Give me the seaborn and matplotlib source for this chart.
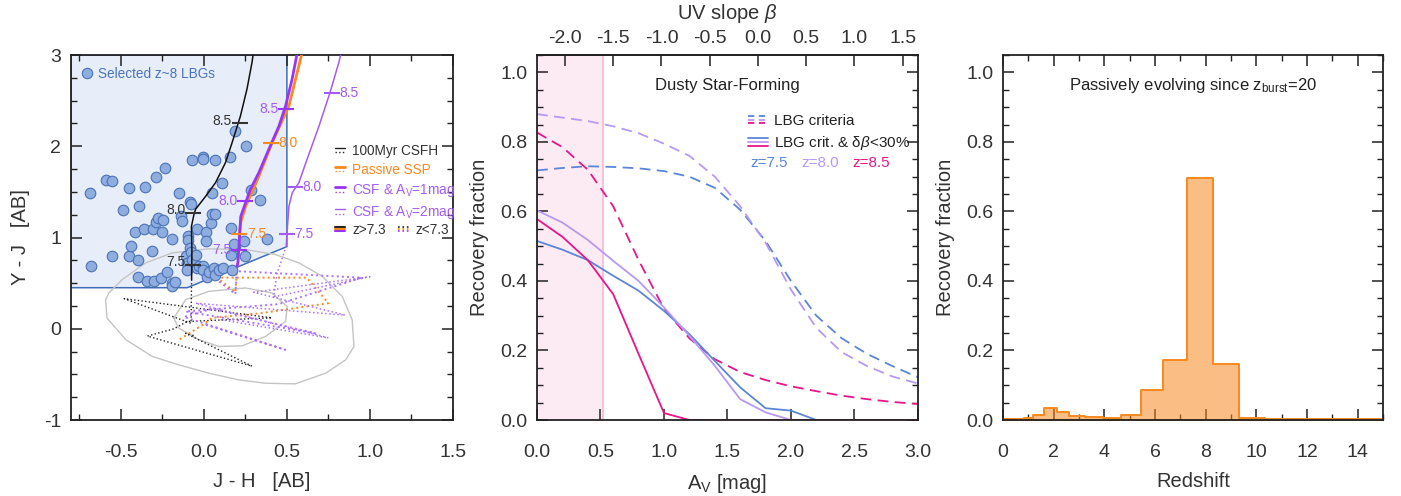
import numpy as np
import pandas as pd
import matplotlib
matplotlib.use("Agg")
import matplotlib.pyplot as plt
import seaborn as sns
from matplotlib.lines import Line2D
from matplotlib.legend_handler import HandlerBase
from matplotlib.patches import Polygon
from matplotlib.ticker import MultipleLocator, FormatStrFormatter

# ---------------------------------------------------------------- data
# Left panel: colour-colour diagram
lbg_jh = [-0.687, -0.677, -0.592, -0.556, -0.552, -0.486, -0.452, -0.452, -0.436, -0.416,
          -0.396, -0.392, -0.396, -0.361, -0.355, -0.345, -0.315, -0.307, -0.301, -0.291,
          -0.287, -0.279, -0.255, -0.249, -0.261, -0.235, -0.225, -0.191, -0.191, -0.191,
          -0.175, -0.151, -0.135, -0.130, -0.110, -0.104, -0.104, -0.094, -0.094, -0.086,
          -0.086, -0.080, -0.074, -0.080, -0.070, -0.046, -0.044, -0.040, -0.030, -0.006,
          -0.006, -0.006, -0.004, 0.010, 0.010, 0.016, 0.030, 0.040, 0.046, 0.050,
          0.070, 0.070, 0.060, 0.070, 0.090, 0.107, 0.116, 0.155, 0.161, 0.161,
          0.171, 0.187, 0.187, 0.241, 0.247, 0.251, 0.285, 0.341, 0.382, 0.180]
lbg_yj = [1.484, 0.692, 1.630, 1.615, 0.802, 1.297, 1.538, 0.798, 0.905, 1.062,
          0.751, 1.344, 0.564, 1.088, 1.557, 0.527, 0.857, 1.088, 0.527, 1.663,
          1.168, 1.212, 1.062, 1.187, 0.557, 1.762, 0.619, 0.989, 0.502, 0.465,
          0.509, 1.487, 1.234, 1.180, 0.795, 0.722, 0.641, 1.022, 0.978, 1.388,
          0.887, 1.370, 1.850, 0.840, 0.758, 0.813, 0.667, 1.088, 0.692, 1.887,
          1.857, 0.692, 0.648, 1.059, 0.960, 0.568, 0.623, 1.154, 1.484, 1.253,
          1.850, 1.253, 0.667, 0.593, 0.641, 1.601, 0.667, 1.883, 1.107, 0.813,
          0.648, 2.168, 0.905, 0.967, 0.802, 2.003, 1.516, 1.410, 0.985, 0.934]

# selection window (Y-J > 0.45, J-H < 0.5, Y-J > 0.525 + 0.75 (J-H))
window_jh = [-0.8, -0.1, 0.5, 0.5, -0.8]
window_yj = [0.45, 0.45, 0.9, 3.0, 3.0]

# model tracks, z > 7.3 part
csfh_jh = [-0.074, -0.072, -0.075, -0.060, -0.050, 0.010, 0.070, 0.130, 0.170, 0.220, 0.260, 0.290, 0.300]
csfh_yj = [0.54, 0.85, 1.12, 1.25, 1.31, 1.45, 1.60, 1.82, 2.04, 2.33, 2.63, 2.92, 3.05]
ssp_jh = [0.212, 0.221, 0.251, 0.331, 0.411, 0.512, 0.595]
ssp_yj = [1.00, 1.16, 1.34, 1.67, 2.04, 2.44, 3.05]
av1_jh = [0.200, 0.205, 0.215, 0.222, 0.251, 0.281, 0.331, 0.392, 0.452, 0.492, 0.532, 0.565]
av1_yj = [0.685, 0.72, 1.01, 1.23, 1.38, 1.53, 1.71, 1.97, 2.22, 2.44, 2.74, 3.05]
av2_jh = [0.496, 0.500, 0.512, 0.532, 0.572, 0.622, 0.693, 0.760, 0.813, 0.830]
av2_yj = [0.905, 1.03, 1.34, 1.49, 1.60, 1.86, 2.22, 2.59, 2.92, 3.05]

# model tracks, z < 7.3 part
csfh_lo_jh = [-0.074, -0.077, -0.48, 0.41, -0.10, -0.18, -0.34, 0.29, -0.11, -0.05]
csfh_lo_yj = [0.54, 0.06, 0.33, 0.12, 0.08, 0.00, -0.08, -0.41, -0.05, -0.08]
ssp_lo_jh = [0.212, 0.20, 0.19, 0.08, 0.62, 0.75, 0.34, 0.05, 0.00, -0.15]
ssp_lo_yj = [1.00, 0.70, 0.40, 0.56, 0.56, 0.28, 0.17, 0.12, 0.05, -0.12]
av1_lo_jh = [0.20, 0.19, 0.00, 0.95, 0.45, -0.11, 0.67, 0.05, -0.12, 0.49, 0.00]
av1_lo_yj = [0.685, 0.38, 0.65, 0.56, 0.27, 0.19, -0.05, 0.22, 0.13, -0.23, 0.05]
av2_lo_jh = [0.496, 0.44, 0.42, 1.00, 0.30, 0.85, -0.05, 0.75, 0.10]
av2_lo_yj = [0.905, 0.60, 0.35, 0.57, 0.40, 0.15, 0.28, -0.10, 0.10]

# redshift markers along the tracks
csfh_z = ["7.5", "8.0", "8.5"]
csfh_mjh = [-0.065, -0.065, 0.215]
csfh_myj = [0.70, 1.27, 2.25]
ssp_z = ["7.5", "8.0"]
ssp_mjh = [0.214, 0.404]
ssp_myj = [1.04, 2.04]
av1_z = ["7.5", "8.0", "8.5"]
av1_mjh = [0.214, 0.247, 0.494]
av1_myj = [0.86, 1.40, 2.41]
av2_z = ["7.5", "8.0", "8.5"]
av2_mjh = [0.500, 0.546, 0.770]
av2_myj = [1.04, 1.557, 2.58]

# outer / inner grey contours of the low-z interloper population
outer_jh = [-0.592, -0.583, -0.47, -0.31, -0.15, 0.03, 0.21, 0.37, 0.55, 0.733, 0.854, 0.904,
            0.893, 0.833, 0.713, 0.572, 0.432, 0.251, 0.03, -0.191, -0.351, -0.492, -0.572, -0.592]
outer_yj = [0.319, 0.117, -0.12, -0.304, -0.396, -0.487, -0.56, -0.597, -0.604, -0.487, -0.341, -0.194,
            0.099, 0.355, 0.575, 0.722, 0.813, 0.868, 0.876, 0.831, 0.722, 0.538, 0.392, 0.319]
inner_jh = [-0.181, -0.11, 0.03, 0.251, 0.41, 0.502, 0.492, 0.372, 0.231, 0.09, -0.03, -0.151, -0.181]
inner_yj = [0.117, 0.319, 0.41, 0.447, 0.392, 0.245, 0.081, -0.084, -0.187, -0.194, -0.12, 0.007, 0.117]

# Middle panel: recovery fraction vs dust attenuation
av_grid = [0.0, 0.2, 0.4, 0.6, 0.8, 1.0, 1.2, 1.4, 1.6, 1.8, 2.0, 2.2, 2.4, 2.6, 2.8, 3.0]
lbg_z75 = [0.718, 0.725, 0.730, 0.728, 0.724, 0.716, 0.700, 0.668, 0.605, 0.515, 0.400, 0.300, 0.235, 0.190, 0.155, 0.123]
lbg_z80 = [0.880, 0.870, 0.860, 0.845, 0.825, 0.795, 0.760, 0.700, 0.615, 0.510, 0.375, 0.265, 0.195, 0.155, 0.125, 0.105]
lbg_z85 = [0.827, 0.785, 0.720, 0.615, 0.460, 0.320, 0.235, 0.175, 0.138, 0.115, 0.097, 0.083, 0.070, 0.060, 0.052, 0.046]
beta_z75 = [0.515, 0.490, 0.460, 0.415, 0.372, 0.314, 0.247, 0.170, 0.094, 0.034, 0.027, 0.0, 0.0, 0.0, 0.0, 0.0]
beta_z80 = [0.603, 0.568, 0.518, 0.458, 0.400, 0.324, 0.242, 0.156, 0.060, 0.022, 0.0, 0.0, 0.0, 0.0, 0.0, 0.0]
beta_z85 = [0.578, 0.527, 0.460, 0.362, 0.190, 0.020, 0.0, 0.0, 0.0, 0.0, 0.0, 0.0, 0.0, 0.0, 0.0, 0.0]
blue_av_max = 0.52
beta_ticks = [-2.0, -1.5, -1.0, -0.5, 0.0, 0.5, 1.0, 1.5]

# Right panel: redshift distribution of passive galaxies
z_edges = [0, 0.83, 1.2, 1.63, 2.12, 2.62, 3.24, 3.96, 4.65, 5.43, 6.33, 7.28, 8.28, 9.33, 10.34, 11.4, 12.5, 13.7, 15.0]
z_frac = [0.002, 0.006, 0.014, 0.034, 0.022, 0.011, 0.008, 0.007, 0.015, 0.085, 0.172, 0.695, 0.160, 0.006, 0.002, 0.002, 0.002, 0.002]

# ---------------------------------------------------------------- style
sns.set_theme(style="ticks")
plt.rcParams["font.family"] = ["Liberation Sans", "DejaVu Sans"]
plt.rcParams["mathtext.fontset"] = "custom"
plt.rcParams["mathtext.rm"] = "Liberation Sans"
plt.rcParams["mathtext.it"] = "Liberation Sans:italic"
plt.rcParams["mathtext.default"] = "rm"
plt.rcParams["axes.edgecolor"] = "#222222"
plt.rcParams["axes.linewidth"] = 1.3
plt.rcParams["xtick.color"] = "#222222"
plt.rcParams["ytick.color"] = "#222222"
plt.rcParams["xtick.labelcolor"] = "#333333"
plt.rcParams["ytick.labelcolor"] = "#333333"

C_BLUE = "#5b86d6"
C_LAV = "#b898f5"
C_MAG = "#e8158a"
C_ORANGE = "#f7891f"
C_PURPLE = "#9a35f5"
C_PURPLE2 = "#a45cf2"
C_DOT = "#b070ff"
TXT = "#333333"


class StackedLines(HandlerBase):
    """Legend key drawing several short lines stacked vertically."""

    def __init__(self, gap=3.0, **kw):
        super().__init__(**kw)
        self.gap = gap

    def create_artists(self, legend, orig_handle, xdescent, ydescent, width, height, fontsize, trans):
        n = len(orig_handle)
        yc = height / 2 - ydescent
        arts = []
        for i, h in enumerate(orig_handle):
            y = yc + (n - 1) * self.gap / 2 - i * self.gap
            ln = Line2D([-xdescent, -xdescent + width], [y, y])
            ln.update_from(h)
            ln.set_transform(trans)
            arts.append(ln)
        return arts


def style_axes(ax, xmaj, xmin, ymaj, ymin, top=True):
    ax.xaxis.set_major_locator(MultipleLocator(xmaj))
    ax.xaxis.set_minor_locator(MultipleLocator(xmin))
    ax.yaxis.set_major_locator(MultipleLocator(ymaj))
    ax.yaxis.set_minor_locator(MultipleLocator(ymin))
    ax.tick_params(which="both", direction="in", top=top, right=True, labelsize=14)
    ax.tick_params(which="major", length=8, width=1.1)
    ax.tick_params(which="minor", length=4, width=1.0)
    ax.tick_params(axis="x", which="major", pad=17)
    ax.tick_params(axis="y", which="major", pad=7)
    for s in ax.spines.values():
        s.set_visible(True)


fig = plt.figure(figsize=(14.01, 4.96), dpi=100)
ax1 = fig.add_axes([0.0507, 0.1532, 0.2726, 0.7359])
ax2 = fig.add_axes([0.3833, 0.1532, 0.2719, 0.7359])
ax3 = fig.add_axes([0.7159, 0.1532, 0.2713, 0.7359])

# ---------------------------------------------------------------- left panel
ax1.add_patch(Polygon(np.column_stack([window_jh, window_yj]), closed=True,
                      facecolor="#e8eef9", edgecolor="#3e6db5", linewidth=1.1, zorder=0))
ax1.plot(outer_jh, outer_yj, color="#c4c4c4", lw=1.0, zorder=1)
ax1.plot(inner_jh, inner_yj, color="#c4c4c4", lw=1.0, zorder=1)

dot_kw = dict(sort=False, estimator=None, ax=ax1, zorder=2)
sns.lineplot(x=csfh_lo_jh, y=csfh_lo_yj, color="#222222", lw=1.0, linestyle=":", **dot_kw)
sns.lineplot(x=ssp_lo_jh, y=ssp_lo_yj, color=C_ORANGE, lw=1.4, linestyle=":", **dot_kw)
sns.lineplot(x=av1_lo_jh, y=av1_lo_yj, color=C_DOT, lw=1.4, linestyle=":", **dot_kw)
sns.lineplot(x=av2_lo_jh, y=av2_lo_yj, color=C_DOT, lw=1.1, linestyle=":", **dot_kw)

sns.scatterplot(x=lbg_jh, y=lbg_yj, s=58, color="#8fadde", edgecolor="#4a72b8",
                linewidth=0.8, ax=ax1, zorder=3)

sol_kw = dict(sort=False, estimator=None, ax=ax1, zorder=4)
sns.lineplot(x=csfh_jh, y=csfh_yj, color="#111111", lw=1.1, **sol_kw)
sns.lineplot(x=ssp_jh, y=ssp_yj, color=C_ORANGE, lw=2.0, **sol_kw)
sns.lineplot(x=av1_jh, y=av1_yj, color=C_PURPLE, lw=2.0, **sol_kw)
sns.lineplot(x=av2_jh, y=av2_yj, color=C_PURPLE2, lw=1.1, **sol_kw)

mk = dict(marker="_", linestyle="none", markersize=12, markeredgewidth=1.5, zorder=5)
ax1.plot(csfh_mjh, csfh_myj, color="#333333", **mk)
ax1.plot(ssp_mjh, ssp_myj, color=C_ORANGE, **mk)
ax1.plot(av1_mjh, av1_myj, color=C_PURPLE, **mk)
ax1.plot(av2_mjh, av2_myj, color=C_PURPLE2, **mk)
lab = dict(fontsize=10, va="center", zorder=6)
for t, x, y in zip(csfh_z, csfh_mjh, csfh_myj):
    ax1.text(x - 0.045, y + 0.03, t, ha="right", color=TXT, **lab)
for t, x, y in zip(ssp_z, ssp_mjh, ssp_myj):
    ax1.text(x + 0.045, y, t, ha="left", color=C_ORANGE, **lab)
for t, x, y in zip(av1_z, av1_mjh, av1_myj):
    ax1.text(x - 0.045, y, t, ha="right", color=C_PURPLE2, **lab)
for t, x, y in zip(av2_z, av2_mjh, av2_myj):
    ax1.text(x + 0.045, y, t, ha="left", color=C_PURPLE2, **lab)

ax1.set_xlim(-0.8, 1.5)
ax1.set_ylim(-1.0, 3.0)
style_axes(ax1, 0.5, 0.25, 1.0, 0.25)
ax1.xaxis.set_major_formatter(FormatStrFormatter("%.1f"))
ax1.yaxis.set_major_formatter(FormatStrFormatter("%d"))
ax1.set_xlabel("J - H   [AB]", fontsize=14.5, color=TXT, labelpad=8)
ax1.set_ylabel("Y - J   [AB]", fontsize=14.5, color=TXT, labelpad=10)

# legends of the left panel
sel = Line2D([], [], marker="o", linestyle="none", markersize=7.5,
             markerfacecolor="#8fadde", markeredgecolor="#4a72b8", markeredgewidth=0.8)
leg0 = ax1.legend([sel], ["Selected z~8 LBGs"], loc="upper left", bbox_to_anchor=(0.0, 1.0),
                  frameon=False, fontsize=9.8, handlelength=0.6, handletextpad=0.5,
                  borderaxespad=0.5, labelcolor="#4a74b8")
ax1.add_artist(leg0)


def pair(color, lw):
    return (Line2D([], [], color=color, lw=lw), Line2D([], [], color=color, lw=1.0, linestyle=":"))


h_models = [pair("#222222", 1.0), pair(C_ORANGE, 2.0), pair(C_PURPLE, 2.0), pair(C_PURPLE2, 1.0)]
l_models = ["100Myr CSFH", "Passive SSP", "CSF & A$_\\mathrm{V}$=1mag", "CSF & A$_\\mathrm{V}$=2mag"]
leg1 = ax1.legend(h_models, l_models, loc="upper left", bbox_to_anchor=(0.69, 0.757),
                  frameon=False, fontsize=9.8, handlelength=0.8, handletextpad=0.5,
                  labelspacing=0.38, borderpad=0, borderaxespad=0,
                  labelcolor=[TXT, C_ORANGE, C_PURPLE2, C_PURPLE2],
                  handler_map={tuple: StackedLines(gap=3.2)})
ax1.add_artist(leg1)
h_z = [(Line2D([], [], color="#222222", lw=1.5), Line2D([], [], color=C_ORANGE, lw=1.5),
        Line2D([], [], color=C_PURPLE, lw=1.5)),
       (Line2D([], [], color="#222222", lw=1.2, ls=":"), Line2D([], [], color=C_ORANGE, lw=1.2, ls=":"),
        Line2D([], [], color=C_PURPLE, lw=1.2, ls=":"))]
ax1.legend(h_z, ["z>7.3", "z<7.3"], loc="upper left", bbox_to_anchor=(0.69, 0.54), ncol=2,
           frameon=False, fontsize=9.8, handlelength=0.8, handletextpad=0.5, columnspacing=0.9,
           borderpad=0, borderaxespad=0, labelcolor=TXT,
           handler_map={tuple: StackedLines(gap=1.6)})

# ---------------------------------------------------------------- middle panel
ax2.axvspan(0, blue_av_max, color="#fdebf3", zorder=0, lw=0)
ax2.axvline(blue_av_max, color="#f6bdd3", lw=1.3, zorder=0)
dash = (6, 3.5)
for vals, col in [(lbg_z75, C_BLUE), (lbg_z80, C_LAV), (lbg_z85, C_MAG)]:
    sns.lineplot(x=av_grid, y=vals, color=col, lw=1.3, ax=ax2).lines[-1].set_dashes(dash)
for vals, col in [(beta_z75, C_BLUE), (beta_z80, C_LAV), (beta_z85, C_MAG)]:
    sns.lineplot(x=av_grid, y=vals, color=col, lw=1.3, ax=ax2)

ax2.set_xlim(0, 3.0)
ax2.set_ylim(0, 1.05)
style_axes(ax2, 0.5, 0.5, 0.2, 0.05, top=False)
ax2.xaxis.set_major_formatter(FormatStrFormatter("%.1f"))
ax2.yaxis.set_major_formatter(FormatStrFormatter("%.1f"))
ax2.set_xlabel("A$_\\mathrm{V}$ [mag]", fontsize=14.5, color=TXT, labelpad=8)
ax2.set_ylabel("Recovery fraction", fontsize=14.5, color=TXT, labelpad=8)

slope, beta0 = 1.316, -2.29
sec = ax2.secondary_xaxis("top", functions=(lambda a: beta0 + slope * a, lambda b: (b - beta0) / slope))
sec.set_xticks(beta_ticks)
sec.xaxis.set_major_formatter(FormatStrFormatter("%.1f"))
sec.tick_params(direction="in", length=8, width=1.1, labelsize=14, pad=6)
sec.set_xlabel("UV slope $\\it{\\beta}$", fontsize=14.5, color=TXT, labelpad=8)

ax2.text(0.5, 0.917, "Dusty Star-Forming", transform=ax2.transAxes, ha="center", va="center",
         fontsize=12, color="#222222")
h_lbg = tuple(Line2D([], [], color=c, lw=1.3, dashes=(3.5, 2.5)) for c in (C_BLUE, C_LAV, C_MAG))
h_beta = tuple(Line2D([], [], color=c, lw=1.3) for c in (C_BLUE, C_LAV, C_MAG))
ax2.legend([h_lbg, h_beta], ["LBG criteria", "LBG crit. & $\\delta\\it{\\beta}$<30%"],
           loc="upper left", bbox_to_anchor=(0.555, 0.838), frameon=False, fontsize=11,
           handlelength=1.3, handletextpad=0.35, labelspacing=0.4, borderpad=0, borderaxespad=0,
           labelcolor="#222222", handler_map={tuple: StackedLines(gap=2.6)})
for t, x, c in [("z=7.5", 0.561, C_BLUE), ("z=8.0", 0.695, C_LAV), ("z=8.5", 0.829, C_MAG)]:
    ax2.text(x, 0.705, t, transform=ax2.transAxes, ha="left", va="center", fontsize=11, color=c)

# ---------------------------------------------------------------- right panel
centers = [(a + b) / 2 for a, b in zip(z_edges[:-1], z_edges[1:])]
sns.histplot(x=centers, weights=z_frac, bins=z_edges, element="step", fill=True,
             color=C_ORANGE, alpha=0.55, linewidth=1.4, ax=ax3)
for art in ax3.collections:
    art.set_edgecolor(C_ORANGE)
ax3.set_xlim(0, 15)
ax3.set_ylim(0, 1.05)
style_axes(ax3, 2, 1, 0.2, 0.05)
ax3.yaxis.set_major_formatter(FormatStrFormatter("%.1f"))
ax3.set_xlabel("Redshift", fontsize=14.5, color=TXT, labelpad=8)
ax3.set_ylabel("Recovery fraction", fontsize=14.5, color=TXT, labelpad=8)
ax3.text(0.5, 0.917, "Passively evolving since z$_\\mathrm{burst}$=20", transform=ax3.transAxes,
         ha="center", va="center", fontsize=12, color="#222222")

fig.savefig("out.png", dpi=100)
